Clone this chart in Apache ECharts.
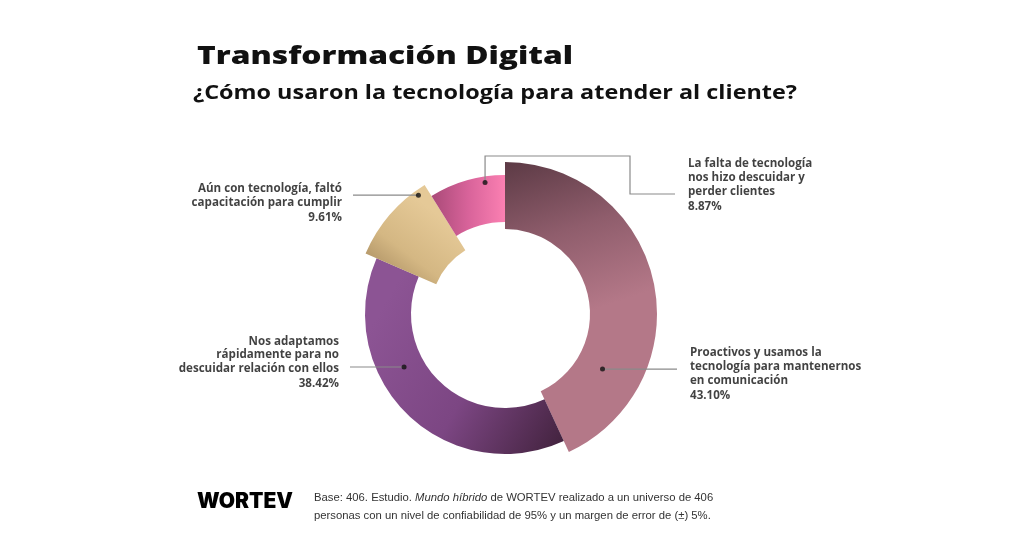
<!DOCTYPE html>
<html>
<head>
<meta charset="utf-8">
<script src="https://cdn.jsdelivr.net/npm/echarts@6/dist/echarts.min.js"></script>
<style>
html,body{margin:0;padding:0;background:#fff;}
#chart{width:1024px;height:536px;}
</style>
</head>
<body>
<div id="chart"></div>
<script>
// ---- DATA ----
const categories = [
  'Proactivos y usamos la tecnología para mantenernos en comunicación',
  'Nos adaptamos rápidamente para no descuidar relación con ellos',
  'Aún con tecnología, faltó capacitación para cumplir',
  'La falta de tecnología nos hizo descuidar y perder clientes'
];
const values = [43.10, 38.42, 9.61, 8.87];
const labelTexts = [
  ['Proactivos y usamos la', 'tecnología para mantenernos', 'en comunicación'],
  ['Nos adaptamos', 'rápidamente para no', 'descuidar relación con ellos'],
  ['Aún con tecnología, faltó', 'capacitación para cumplir'],
  ['La falta de tecnología', 'nos hizo descuidar y', 'perder clientes']
];
const titleText = 'Transformación Digital';
const subtitleText = '¿Cómo usaron la tecnología para atender al cliente?';
const brandText = 'WORTEV';
const footerLine1 = ['Base: 406. Estudio. ', 'Mundo híbrido', ' de WORTEV realizado a un universo de 406'];
const footerLine2 = 'personas con un nivel de confiabilidad de 95% y un margen de error de (±) 5%.';

// ---- STYLE / LAYOUT ----
const CENTER = [505, 314];
const RADII = [[85, 152], [94, 140], [75, 152], [92, 139]];
const DOT_R = [112, 114, 147, 133];
const DOT_F = [0.77, 0.63, 0.88, 0.73];
const FONT = '"Open Sans", "Noto Sans", sans-serif';
const grad = (x, y, x2, y2, stops) => new echarts.graphic.LinearGradient(x, y, x2, y2,
  stops.map((c, i) => ({ offset: i / (stops.length - 1), color: c })));
const COLORS = [
  grad(0, 0, 0.35, 0.55, ['#5c3a45', '#8f5d6c', '#b47888']),
  grad(0, 0.4, 1, 1, ['#8c5494', '#7c4683', '#40213b']),
  grad(0, 1, 0.6, 0.2, ['#9c8056', '#d4b783', '#e5c997']),
  grad(0, 0.5, 1, 0.5, ['#a94a78', '#d8639a', '#fb80b2'])
];
const LABEL_POS = [
  { x: 690, y: 346, align: 'left', lineEnd: 677 },
  { x: 339, y: 334.5, align: 'right', lineEnd: 350 },
  { x: 342, y: 182, align: 'right', lineEnd: 353 },
  { x: 688, y: 157, align: 'left', lineEnd: 675 }
];
const LINE_COLOR = '#8a8a8a';

const starts = values.map((v, i) => values.slice(0, i).reduce((s, x) => s + x, 0));

const chart = echarts.init(document.getElementById('chart'), null, { renderer: 'canvas' });

const pieSeries = values.map((_, i) => ({
  type: 'pie',
  center: CENTER,
  radius: RADII[i],
  startAngle: 90,
  clockwise: true,
  silent: true,
  animation: false,
  label: { show: false },
  labelLine: { show: false },
  data: values.map((v, j) => ({
    value: v,
    name: categories[j],
    itemStyle: j === i ? { color: COLORS[i] } : { color: 'rgba(0,0,0,0)' }
  }))
}));

const dotSeries = {
  type: 'scatter',
  coordinateSystem: 'polar',
  symbolSize: 5,
  silent: true,
  animation: false,
  z: 10,
  itemStyle: { color: '#111' },
  data: values.map((v, i) => ({ value: [DOT_R[i], starts[i] + DOT_F[i] * v], name: categories[i] })),
  label: {
    show: true,
    formatter: (p) => labelTexts[p.dataIndex].join('\n') + '\n{p|' + values[p.dataIndex].toFixed(2) + '%}',
    fontFamily: FONT,
    fontWeight: 'bold',
    fontSize: 11.6,
    lineHeight: 13.7,
    color: '#111',
    rich: { p: { fontFamily: FONT, fontWeight: 'bold', fontSize: 11.6, lineHeight: 17, color: '#111' } }
  },
  labelLayout: function (params) {
    const pos = LABEL_POS[params.dataIndex];
    return { x: pos.x, y: pos.y, align: pos.align, verticalAlign: 'top' };
  }
};

// text stretched to the reference's wide geometric face
function measure(text, font) {
  const ctx = document.createElement('canvas').getContext('2d');
  ctx.font = font;
  return ctx.measureText(text).width;
}
function stretchedText(text, x, yMid, size, weight, targetW) {
  const font = weight + ' ' + size + 'px "Open Sans"';
  const w = measure(text, font);
  return {
    type: 'text', x: x, y: yMid, scaleX: targetW / w, scaleY: 1, z: 20,
    style: { text: text, font: font, fill: '#111', verticalAlign: 'middle', align: 'left' }
  };
}

const option = {
  backgroundColor: '#ffffff',
  animation: false,
  title: [
    { text: brandText, left: 197, top: 491, padding: 0,
      textStyle: { fontFamily: 'Inter, "DejaVu Sans", sans-serif', fontWeight: 900, fontSize: 21, color: '#000' } },
    { text: footerLine1[0] + '{i|' + footerLine1[1] + '}' + footerLine1[2] + '\n' + footerLine2,
      left: 314, top: 489, padding: 0,
      textStyle: { fontFamily: '"Liberation Sans", Arial, sans-serif', fontWeight: 'normal', fontSize: 11.3, lineHeight: 18, color: '#333',
        rich: { i: { fontFamily: '"Liberation Sans", Arial, sans-serif', fontStyle: 'italic', fontSize: 11.3, lineHeight: 18, color: '#333' } } } }
  ],
  polar: { center: CENTER, radius: 200 },
  angleAxis: { type: 'value', min: 0, max: 100, startAngle: 90, clockwise: true, show: false },
  radiusAxis: { type: 'value', min: 0, max: 200, show: false },
  series: pieSeries.concat([dotSeries])
};

chart.setOption(option);

// leader lines from each dot (positions from the polar scale) to its label
const dotPts = dotSeries.data.map(d => chart.convertToPixel({ seriesIndex: pieSeries.length }, d.value));
const lines = dotPts.map((pt, i) => {
  const end = LABEL_POS[i].lineEnd;
  let points;
  if (i === 3) {
    points = [pt, [pt[0], 156], [630, 156], [630, 194], [end, 194]];
  } else {
    points = [pt, [end, pt[1]]];
  }
  return { type: 'polyline', z: 5, silent: true, shape: { points: points }, style: { stroke: LINE_COLOR, lineWidth: 1.2, fill: null } };
});

chart.setOption({
  graphic: {
    elements: [
      stretchedText(titleText, 197, 57, 24, 800, 376),
      stretchedText(subtitleText, 193, 93.5, 19, 'bold', 604)
    ].concat(lines)
  }
});
</script>
</body>
</html>
